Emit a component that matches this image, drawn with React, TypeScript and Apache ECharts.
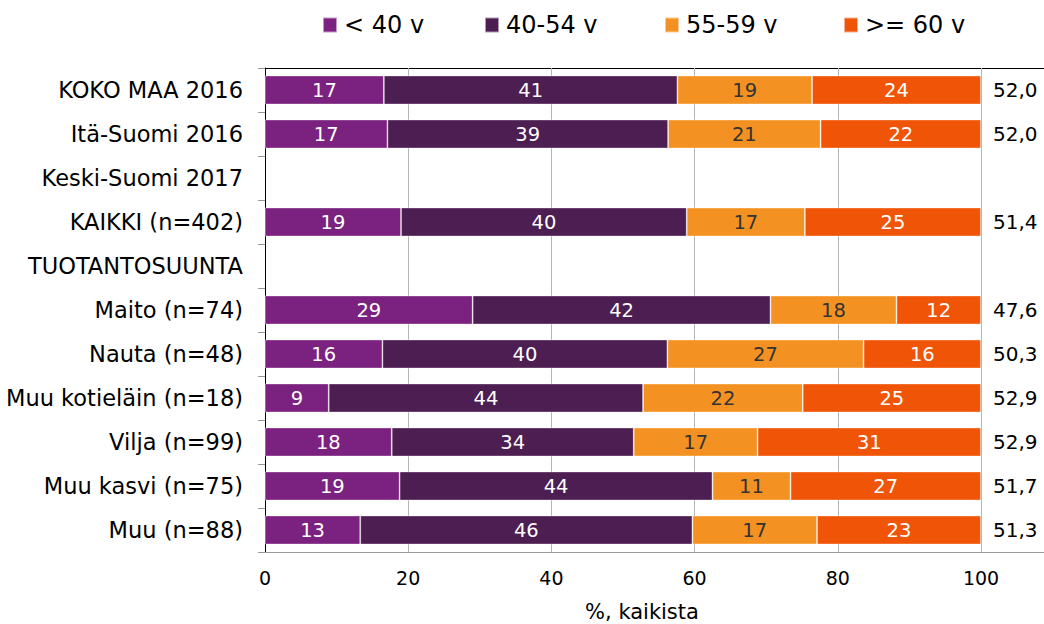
import React, { useEffect, useRef } from "react";
import * as echarts from "echarts";

const categories = [
  "KOKO MAA 2016",
  "Itä-Suomi 2016",
  "Keski-Suomi 2017",
  "KAIKKI (n=402)",
  "TUOTANTOSUUNTA",
  "Maito (n=74)",
  "Nauta (n=48)",
  "Muu kotieläin (n=18)",
  "Vilja (n=99)",
  "Muu kasvi (n=75)",
  "Muu (n=88)",
];
const seriesNames = ["< 40 v", "40-54 v", "55-59 v", ">= 60 v"];
const under40 = [16.6, 17.1, null, 19.0, null, 29.0, 16.4, 8.9, 17.7, 18.8, 13.3];
const age40to54 = [41.0, 39.2, null, 39.9, null, 41.6, 39.8, 43.9, 33.8, 43.7, 46.4];
const age55to59 = [18.8, 21.3, null, 16.5, null, 17.6, 27.4, 22.3, 17.3, 10.9, 17.4];
const over60 = [23.6, 22.4, null, 24.6, null, 11.8, 16.4, 24.9, 31.2, 26.6, 22.9];
const meanAges = ["52,0", "52,0", "", "51,4", "", "47,6", "50,3", "52,9", "52,9", "51,7", "51,3"];
const xTicks = [0, 20, 40, 60, 80, 100];

const colors = ["#7B217F", "#4C1E51", "#F39222", "#EF5407"];
const labelColors = ["#ffffff", "#ffffff", "#333333", "#ffffff"];
const legendLefts = [322, 484, 664, 843];

export default function App() {
  const ref = useRef<HTMLDivElement>(null);
  useEffect(() => {
    if (!ref.current) return;
    const chart = echarts.init(ref.current, null, { renderer: "svg" });
    const values = [under40, age40to54, age55to59, over60];
    const font = "DejaVu Sans";
    chart.setOption({
      animation: false,
      textStyle: { fontFamily: font },
      legend: seriesNames.map((n, i) => ({
        data: [n],
        left: legendLefts[i],
        top: 13,
        padding: 0,
        icon: "rect",
        itemWidth: 14,
        itemHeight: 15,
        textStyle: { fontSize: 24, color: "#000", fontFamily: font, padding: [0, 0, 0, 2] },
      })),
      grid: { left: 265, right: 63, top: 68, bottom: 72, containLabel: false },
      xAxis: {
        type: "value",
        min: 0,
        max: 100,
        interval: 20,
        axisLine: { show: true, lineStyle: { color: "#999999", width: 1 } },
        axisTick: { show: false },
        splitLine: { show: true, lineStyle: { color: "#b4b4b4", width: 1 } },
        axisLabel: {
          fontSize: 19,
          color: "#000",
          margin: 16,
          formatter: (v: number) => (xTicks.includes(v) ? String(v) : ""),
        },
      },
      yAxis: [
        {
          type: "category",
          data: categories,
          inverse: true,
          axisLine: { show: true, lineStyle: { color: "#000", width: 1 } },
          axisTick: { show: true, length: 7, lineStyle: { color: "#999999" } },
          axisLabel: { fontSize: 22.5, color: "#000", margin: 22 },
        },
        {
          type: "category",
          data: meanAges,
          inverse: true,
          position: "right",
          axisLine: { show: false },
          axisTick: { show: false },
          splitLine: { show: false },
          axisLabel: { fontSize: 20, color: "#000", margin: 12 },
        },
      ],
      series: seriesNames.map((n, i) => ({
        name: n,
        type: "bar",
        stack: "total",
        data: values[i],
        barCategoryGap: "34%",
        itemStyle: { color: colors[i], borderColor: "rgba(255,255,255,0.55)", borderWidth: 0.8 },
        label: {
          show: true,
          position: "inside",
          fontSize: 19.5,
          color: labelColors[i],
          formatter: (p: any) => String(Math.round(p.value)),
        },
      })),
      graphic: [
        { type: "line", shape: { x1: 265, y1: 68.5, x2: 1044, y2: 68.5 }, style: { stroke: "#000", lineWidth: 1 } },
        { type: "line", shape: { x1: 265, y1: 552.5, x2: 1044, y2: 552.5 }, style: { stroke: "#999999", lineWidth: 1 } },
        {
          type: "text",
          x: 642,
          y: 612,
          style: { text: "%, kaikista", fontSize: 21, fill: "#000", fontFamily: font, align: "center", verticalAlign: "middle" },
        },
      ],
    });
    return () => chart.dispose();
  }, []);
  return <div ref={ref} style={{ position: "fixed", left: 0, top: 0, width: 1044, height: 624, background: "#fff" }} />;
}
